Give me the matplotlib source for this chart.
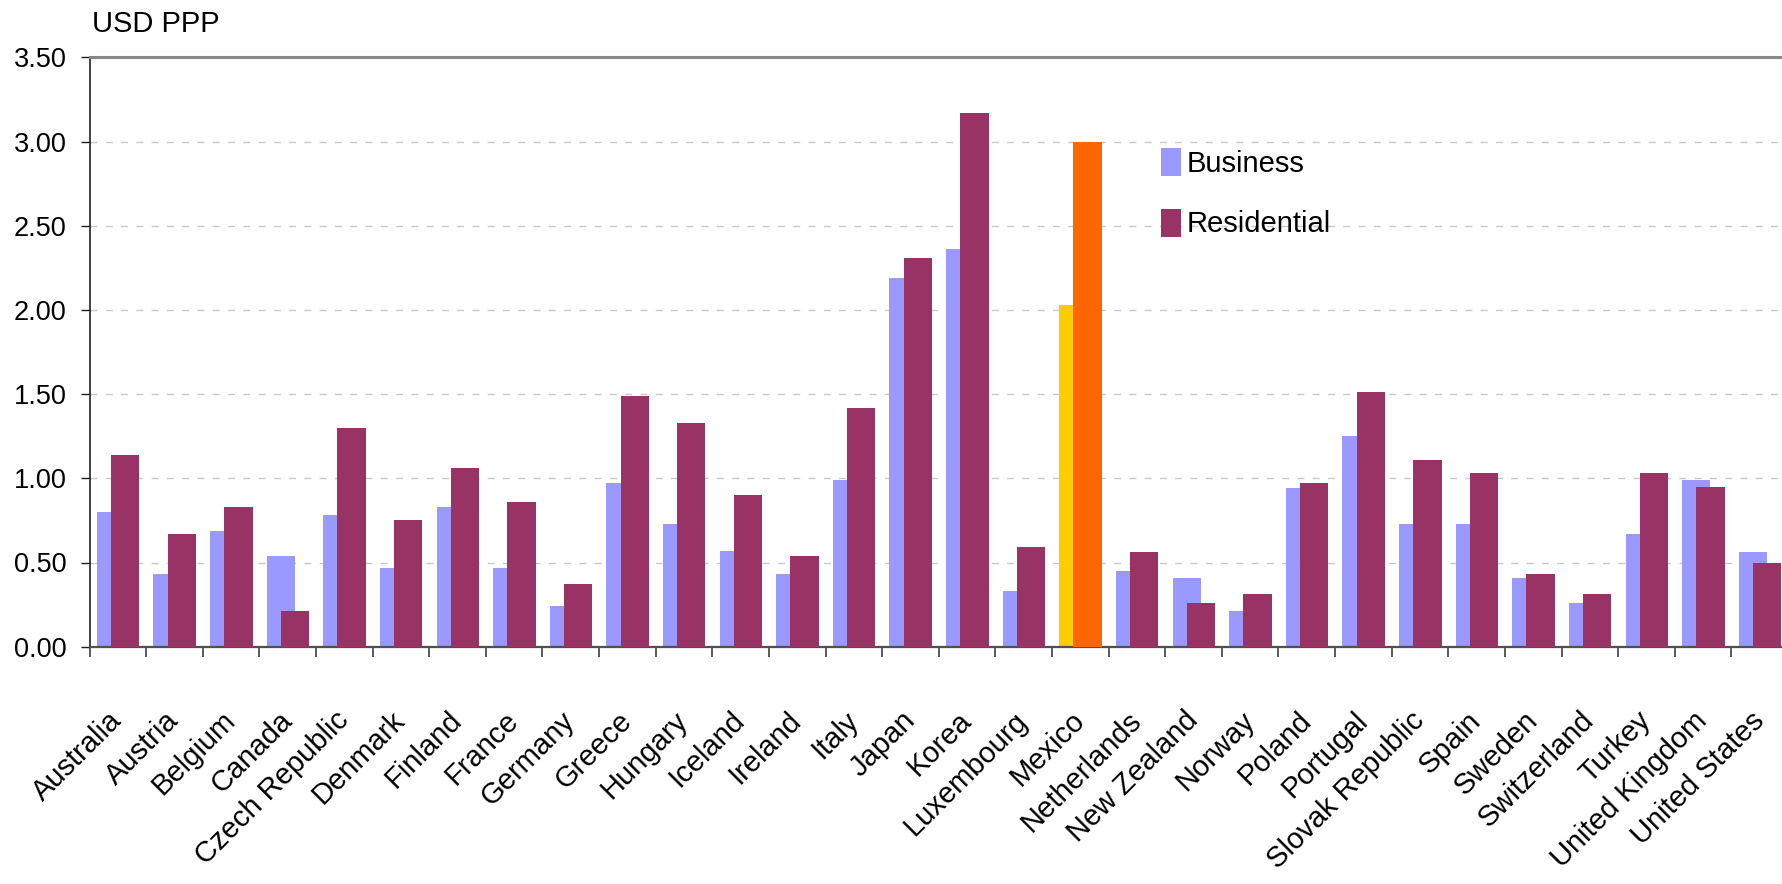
import numpy as np
import matplotlib
matplotlib.use("Agg")
import matplotlib.pyplot as plt
from matplotlib.ticker import FixedLocator, FormatStrFormatter

plt.rcParams["font.family"] = ["Liberation Sans", "DejaVu Sans"]

countries = [
    "Australia", "Austria", "Belgium", "Canada", "Czech Republic", "Denmark",
    "Finland", "France", "Germany", "Greece", "Hungary", "Iceland", "Ireland",
    "Italy", "Japan", "Korea", "Luxembourg", "Mexico", "Netherlands",
    "New Zealand", "Norway", "Poland", "Portugal", "Slovak Republic", "Spain",
    "Sweden", "Switzerland", "Turkey", "United Kingdom", "United States",
]
business = [
    0.80, 0.43, 0.69, 0.54, 0.78, 0.47, 0.83, 0.47, 0.24, 0.97, 0.73, 0.57,
    0.43, 0.99, 2.19, 2.36, 0.33, 2.03, 0.45, 0.41, 0.21, 0.94, 1.25, 0.73,
    0.73, 0.41, 0.26, 0.67, 0.99, 0.56,
]
residential = [
    1.14, 0.67, 0.83, 0.21, 1.30, 0.75, 1.06, 0.86, 0.37, 1.49, 1.33, 0.90,
    0.54, 1.42, 2.31, 3.17, 0.59, 3.00, 0.56, 0.26, 0.31, 0.97, 1.51, 1.11,
    1.03, 0.43, 0.31, 1.03, 0.95, 0.50,
]
highlight = "Mexico"
yticks = [0.0, 0.5, 1.0, 1.5, 2.0, 2.5, 3.0, 3.5]

BUS_COLOR = "#9999FF"
RES_COLOR = "#993366"
BUS_HIGHLIGHT = "#FFCC00"
RES_HIGHLIGHT = "#FF6600"

W, H, DPI = 1782, 884, 100
fig = plt.figure(figsize=(W / DPI, H / DPI), dpi=DPI)
fig.patch.set_facecolor("white")

ax_left = 89.5 / W
ax_right = 1788 / W
ax_bottom = (H - 646.7) / H
ax_top = (H - 57.3) / H
ax = fig.add_axes([ax_left, ax_bottom, ax_right - ax_left, ax_top - ax_bottom])

n = len(countries)
centers = np.arange(n) + 0.5
bus_colors = [BUS_HIGHLIGHT if c == highlight else BUS_COLOR for c in countries]
res_colors = [RES_HIGHLIGHT if c == highlight else RES_COLOR for c in countries]

bars_b = ax.bar(centers - 0.12, business, width=0.5, color=bus_colors,
                label="Business", zorder=2, linewidth=0)
bars_r = ax.bar(centers + 0.13, residential, width=0.5, color=res_colors,
                label="Residential", zorder=3, linewidth=0)

ax.set_xlim(0, n)
ax.set_ylim(0, 3.5)

# y axis
ax.yaxis.set_major_locator(FixedLocator(yticks))
ax.yaxis.set_major_formatter(FormatStrFormatter("%.2f"))
ax.tick_params(axis="y", direction="out", length=6.5, width=1.0,
               color="#202020", pad=10, labelsize=19.5)
ax.yaxis.grid(True, color="#c8c8c8", linewidth=1.0, linestyle=(0, (5, 6)))
ax.set_axisbelow(True)

# x axis: ticks on category boundaries, labels on centres
ax.set_xticks(np.arange(n + 1))
ax.set_xticklabels([])
ax.tick_params(axis="x", which="major", direction="out", length=7.5,
               width=1.2, color="#404040")
ax.set_xticks(centers, labels=countries, minor=True)
ax.tick_params(axis="x", which="minor", length=0, pad=50, labelsize=21)
for lbl in ax.get_xticklabels(minor=True):
    lbl.set_rotation(45)
    lbl.set_ha("right")
    lbl.set_va("center")
    lbl.set_rotation_mode("anchor")

ax.spines["top"].set_color("#888888")
ax.spines["top"].set_linewidth(2.2)
ax.spines["left"].set_color("#202020")
ax.spines["left"].set_linewidth(1.2)
ax.spines["bottom"].set_color("#505050")
ax.spines["bottom"].set_linewidth(1.6)
ax.spines["right"].set_visible(False)

fig.text(92 / W, 1 - 24 / H, "USD PPP", fontsize=21, ha="left", va="center")

ax.legend(handles=[bars_b, bars_r], loc="upper left",
          bbox_to_anchor=(1161 / W, 1 - 148 / H), bbox_transform=fig.transFigure,
          frameon=False, fontsize=21, handlelength=0.68, handleheight=1.1,
          handletextpad=0.2, labelspacing=1.05, borderpad=0, borderaxespad=0)

fig.savefig("out.png", dpi=DPI, facecolor="white")
